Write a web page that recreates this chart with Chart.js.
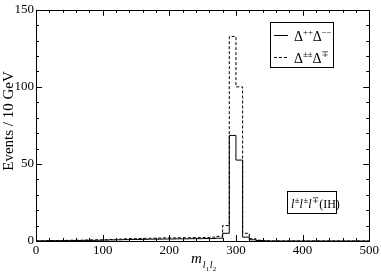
<!DOCTYPE html>
<html>
<head>
<meta charset="utf-8">
<script src="https://cdn.jsdelivr.net/npm/chart.js@4/dist/chart.umd.min.js"></script>
<style>
  html, body { margin: 0; padding: 0; background: #fff; }
  #wrap { width: 381px; height: 273px; }
</style>
</head>
<body>
<div id="wrap"><canvas id="c" width="381" height="273"></canvas></div>
<script>
// bin linkerranden in GeV (bins van 10 GeV)
var binEdges = [];
for (var b = 0; b <= 500; b += 10) binEdges.push(b);

// Delta++ Delta-- (getrokken lijn), per bin van 10 GeV
var solidVals = [
  0.1, 0.1, 0.2, 0.2, 0.3, 0.3, 0.3, 0.4, 0.4, 0.5,
  0.6, 0.7, 0.8, 0.9, 1.0, 1.0, 1.1, 1.2, 1.2, 1.3,
  1.3, 1.4, 1.4, 1.5, 1.5, 1.6, 1.6, 1.8, 5.0, 68.5,
  52.5, 2.5, 0.8, 0.3, 0.1, 0, 0, 0, 0, 0,
  0, 0, 0, 0, 0, 0, 0, 0, 0, 0
];
// Delta±± Delta∓ (gestippelde lijn)
var dashedVals = [
  0.1, 0.2, 0.3, 0.3, 0.4, 0.5, 0.5, 0.6, 0.7, 0.7,
  0.8, 1.0, 1.2, 1.4, 1.5, 1.6, 1.7, 1.8, 1.9, 2.0,
  2.0, 2.1, 2.1, 2.2, 2.2, 2.3, 2.5, 3.0, 10.0, 132.7,
  100.0, 5.0, 1.5, 0.5, 0.2, 0, 0, 0, 0, 0,
  0, 0, 0, 0, 0, 0, 0, 0, 0, 0
];
var xTicks = [0, 100, 200, 300, 400, 500];
var yTicks = [0, 50, 100, 150];

function toPoints(vals) {
  // punten op de linkerrand van elke bin, plus een eindpunt op 500
  var pts = [];
  for (var i = 0; i < vals.length; i++) pts.push({ x: binEdges[i], y: vals[i] });
  pts.push({ x: binEdges[vals.length], y: 0 });
  return pts;
}

var serif = '"Liberation Serif", "DejaVu Serif", serif';

// tekst met superscripts tekenen: parts = [tekst, 'n'|'sup', italic, extra ruimte]
function drawRich(ctx, x, y, parts, size, supScale) {
  supScale = supScale || 0.62;
  for (var i = 0; i < parts.length; i++) {
    var p = parts[i];
    var fs = size, dy = 0;
    if (p[1] === 'sup') { fs = size * supScale; dy = -size * 0.42; }
    ctx.font = (p[2] ? 'italic ' : '') + fs + 'px ' + serif;
    ctx.fillText(p[0], x, y + dy);
    x += ctx.measureText(p[0]).width + (p[3] || 0);
  }
  return x;
}

var framePlugin = {
  id: 'frame',
  afterDraw: function (chart) {
    var ctx = chart.ctx, a = chart.chartArea;
    var xs = chart.scales.x, ys = chart.scales.y;
    ctx.save();
    ctx.strokeStyle = '#000';
    ctx.lineWidth = 1;
    ctx.strokeRect(Math.round(a.left) + 0.5, Math.round(a.top) + 0.5,
      Math.round(a.right - a.left), Math.round(a.bottom - a.top));
    // tickjes naar binnen, ook boven en rechts
    ctx.beginPath();
    for (var v = 0; v <= 500; v += 20) {
      var px = Math.round(xs.getPixelForValue(v)) + 0.5;
      var len = (v % 100 === 0) ? 6 : 3;
      ctx.moveTo(px, a.bottom); ctx.lineTo(px, a.bottom - len);
      ctx.moveTo(px, a.top); ctx.lineTo(px, a.top + len);
    }
    for (var w = 0; w <= 150; w += 10) {
      var py = Math.round(ys.getPixelForValue(w)) + 0.5;
      var len2 = (w % 50 === 0) ? 6 : 3;
      ctx.moveTo(a.left, py); ctx.lineTo(a.left + len2, py);
      ctx.moveTo(a.right, py); ctx.lineTo(a.right - len2, py);
    }
    ctx.stroke();

    ctx.fillStyle = '#000';
    ctx.textBaseline = 'alphabetic';
    ctx.textAlign = 'left';

    // legenda
    ctx.strokeRect(270.5, 22.5, 63, 45);
    ctx.beginPath();
    ctx.moveTo(274, 35.5); ctx.lineTo(288, 35.5);
    ctx.stroke();
    ctx.setLineDash([3, 2]);
    ctx.beginPath();
    ctx.moveTo(274, 57.5); ctx.lineTo(288, 57.5);
    ctx.stroke();
    ctx.setLineDash([]);
    drawRich(ctx, 294, 41, [['\u0394', 'n'], ['++', 'sup'], ['\u0394', 'n'], ['\u2212\u2212', 'sup']], 14);
    drawRich(ctx, 294, 63, [['\u0394', 'n'], ['\u00b1\u00b1', 'sup'], ['\u0394', 'n'], ['\u2213', 'sup']], 14);

    // kanaal label
    ctx.strokeRect(287.5, 191.5, 49, 22);
    drawRich(ctx, 291, 208, [['l', 'n', true, 0.5], ['\u00b1', 'sup'], ['l', 'n', true, 0.5],
      ['\u00b1', 'sup'], ['l', 'n', true, 0.5], ['\u2213', 'sup'], ['(IH)', 'n']], 12, 0.72);

    // x-as titel
    var xx = drawRich(ctx, 191, 263, [['m', 'n', true]], 15);
    ctx.font = 'italic 10px ' + serif;
    ctx.fillText('l', xx + 1, 268);
    ctx.font = '7px ' + serif;
    ctx.fillText('1', xx + 4, 271);
    ctx.font = 'italic 10px ' + serif;
    ctx.fillText('l', xx + 8, 268);
    ctx.font = '7px ' + serif;
    ctx.fillText('2', xx + 11, 271);

    // y-as titel
    ctx.save();
    ctx.translate(13, 121);
    ctx.rotate(-Math.PI / 2);
    ctx.textAlign = 'center';
    ctx.font = '15px ' + serif;
    ctx.fillText('Events / 10 GeV', 0, 0);
    ctx.restore();
    ctx.restore();
  }
};

var chart = new Chart(document.getElementById('c'), {
  type: 'line',
  data: {
    datasets: [
      { label: 'solid', data: toPoints(solidVals), stepped: true, borderColor: '#000',
        borderWidth: 1, pointRadius: 0, fill: false },
      { label: 'dashed', data: toPoints(dashedVals), stepped: true, borderColor: '#000',
        borderWidth: 1, borderDash: [3, 2], pointRadius: 0, fill: false }
    ]
  },
  options: {
    responsive: false,
    animation: false,
    events: [],
    layout: { padding: { top: 5, right: 11, left: 0, bottom: 0 } },
    plugins: { legend: { display: false }, tooltip: { enabled: false } },
    scales: {
      x: {
        type: 'linear', min: 0, max: 500,
        afterBuildTicks: function (s) { s.ticks = xTicks.map(function (v) { return { value: v }; }); },
        afterFit: function (s) { s.height = 32; },
        grid: { display: false, drawTicks: false },
        border: { display: false },
        ticks: { color: '#000', padding: 2, maxRotation: 0, font: { family: serif, size: 13 } }
      },
      y: {
        min: 0, max: 150,
        afterBuildTicks: function (s) { s.ticks = yTicks.map(function (v) { return { value: v }; }); },
        afterFit: function (s) { s.width = 36; },
        grid: { display: false, drawTicks: false },
        border: { display: false },
        ticks: { color: '#000', padding: 2, font: { family: serif, size: 13 } }
      }
    }
  },
  plugins: [framePlugin]
});
</script>
</body>
</html>
